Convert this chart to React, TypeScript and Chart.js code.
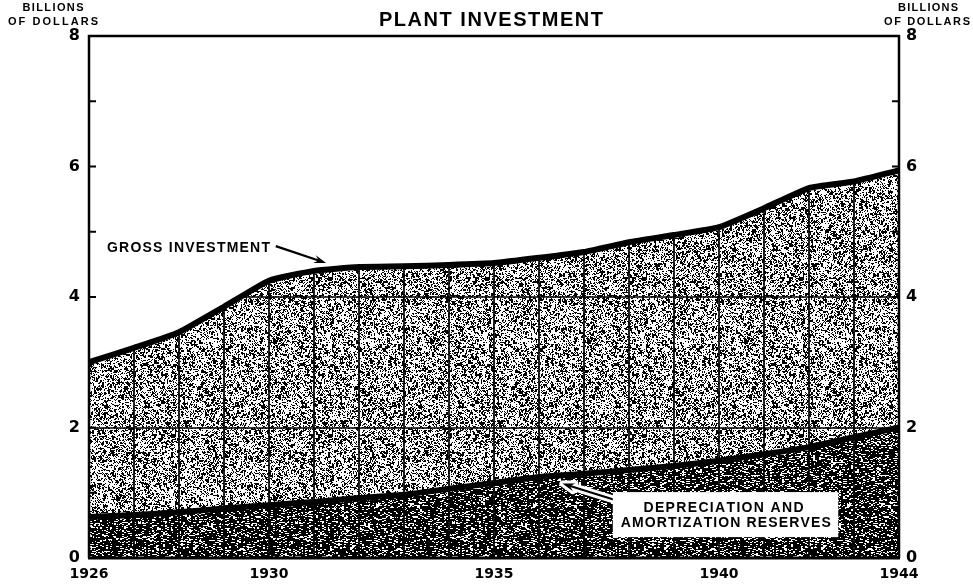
import { useEffect, useRef } from "react";
import { Chart, registerables } from "chart.js";

Chart.register(...registerables);

// ---- Data (billions of dollars) ----
const years = [1926, 1927, 1928, 1929, 1930, 1931, 1932, 1933, 1934, 1935, 1936, 1937, 1938, 1939, 1940, 1941, 1942, 1943, 1944];
const grossInvestment = [3.0, 3.22, 3.46, 3.85, 4.25, 4.4, 4.46, 4.47, 4.49, 4.52, 4.6, 4.69, 4.84, 4.95, 5.07, 5.36, 5.67, 5.77, 5.94];
const depreciationReserves = [0.63, 0.66, 0.7, 0.76, 0.81, 0.86, 0.92, 0.97, 1.06, 1.15, 1.24, 1.29, 1.35, 1.41, 1.49, 1.59, 1.7, 1.85, 2.0];
const xTickLabels = [1926, 1930, 1935, 1940, 1944];
const yMin = 0;
const yMax = 8;
const yStep = 2;
const gridValues = [2, 4, 6];
const minorTickValues = [1, 2, 3, 4, 5, 6, 7];

const TITLE = "PLANT INVESTMENT";
const AXIS_TITLE = ["BILLIONS", "OF DOLLARS"];
const GROSS_LABEL = "GROSS INVESTMENT";
const DEP_LABEL = ["DEPRECIATION AND", "AMORTIZATION RESERVES"];

const FONT = "'Liberation Sans', Arial, sans-serif";
const TICK_FONT = "'DejaVu Sans', sans-serif";

// deterministic hash for stipple texture (style only)
function hash(x: number, y: number, seed: number) {
  let h = (Math.imul(x, 374761393) + Math.imul(y, 668265263) + Math.imul(seed, 982451653)) | 0;
  h = Math.imul(h ^ (h >>> 13), 1274126177);
  h ^= h >>> 16;
  return (h >>> 0) / 4294967296;
}

function makeStipple(kind: "light" | "dark"): CanvasPattern | string {
  const size = 157;
  const c = document.createElement("canvas");
  c.width = size;
  c.height = size;
  const g = c.getContext("2d");
  if (!g) return kind === "light" ? "#9a9a9a" : "#3a3a3a";
  const img = g.createImageData(size, size);
  for (let y = 0; y < size; y++) {
    for (let x = 0; x < size; x++) {
      let black: boolean;
      if (kind === "light") {
        black = hash(x, y, 7) < 0.3 || hash(x >> 1, y >> 1, 11) < 0.14;
      } else {
        const white = hash(x >> 1, y, 3) < 0.2 || hash(x, y, 5) < 0.07;
        black = !white;
      }
      const v = black ? 0 : 255;
      const i = (y * size + x) * 4;
      img.data[i] = v;
      img.data[i + 1] = v;
      img.data[i + 2] = v;
      img.data[i + 3] = 255;
    }
  }
  g.putImageData(img, 0, 0);
  const p = g.createPattern(c, "repeat");
  return p || (kind === "light" ? "#9a9a9a" : "#3a3a3a");
}

function spacedText(
  ctx: CanvasRenderingContext2D,
  text: string,
  x: number,
  cy: number,
  width: number,
  font: string,
  align: "center" | "left" = "center"
) {
  ctx.save();
  ctx.font = font;
  ctx.fillStyle = "#000";
  ctx.textBaseline = "middle";
  ctx.textAlign = "left";
  const chars = Array.from(text);
  const widths = chars.map((c) => ctx.measureText(c).width);
  const natural = widths.reduce((s, w) => s + w, 0);
  let gap = chars.length > 1 ? (width - natural) / (chars.length - 1) : 0;
  let sx = 1;
  if (gap < 0) {
    sx = width / natural;
    gap = 0;
  }
  const x0 = align === "center" ? x - width / 2 : x;
  ctx.translate(x0, cy);
  ctx.scale(sx, 1);
  let cx = 0;
  chars.forEach((c, i) => {
    ctx.fillText(c, cx, 0);
    cx += widths[i] + gap / sx;
  });
  ctx.restore();
}

function arrowPath(ctx: CanvasRenderingContext2D, x1: number, y1: number, x2: number, y2: number, head: number) {
  const ang = Math.atan2(y2 - y1, x2 - x1);
  const shaft = new Path2D();
  shaft.moveTo(x1, y1);
  shaft.lineTo(x2 - Math.cos(ang) * 4, y2 - Math.sin(ang) * 4);
  const tip = new Path2D();
  tip.moveTo(x2, y2);
  tip.lineTo(x2 - head * Math.cos(ang - 0.32), y2 - head * Math.sin(ang - 0.32));
  tip.lineTo(x2 - head * 0.6 * Math.cos(ang), y2 - head * 0.6 * Math.sin(ang));
  tip.lineTo(x2 - head * Math.cos(ang + 0.32), y2 - head * Math.sin(ang + 0.32));
  tip.closePath();
  return { shaft, tip };
}

function arrow(ctx: CanvasRenderingContext2D, x1: number, y1: number, x2: number, y2: number, halo = false) {
  const { shaft, tip } = arrowPath(ctx, x1, y1, x2, y2, 13);
  ctx.save();
  ctx.lineJoin = "round";
  ctx.lineCap = "round";
  if (halo) {
    ctx.strokeStyle = "#fff";
    ctx.lineWidth = 8;
    ctx.stroke(shaft);
    ctx.lineWidth = 6;
    ctx.stroke(tip);
    ctx.fillStyle = "#fff";
    ctx.fill(tip);
  }
  ctx.strokeStyle = "#000";
  ctx.fillStyle = "#000";
  ctx.lineWidth = 2.2;
  ctx.lineCap = "butt";
  ctx.stroke(shaft);
  ctx.fill(tip);
  ctx.restore();
}

const decorPlugin = {
  id: "decor",
  afterDatasetsDraw(chart: any) {
    const { ctx, chartArea: a, scales } = chart;
    const xs = scales.x;
    const ys = scales.y;
    const X = (v: number) => xs.getPixelForValue(v);
    const Y = (v: number) => ys.getPixelForValue(v);

    // grid lines clipped to the shaded area (below gross investment line)
    ctx.save();
    ctx.beginPath();
    const meta = chart.getDatasetMeta(1);
    const line = meta.dataset;
    if (line && typeof line.path === "function") {
      line.path(ctx);
    } else {
      meta.data.forEach((p: any, i: number) => (i === 0 ? ctx.moveTo(p.x, p.y) : ctx.lineTo(p.x, p.y)));
    }
    ctx.lineTo(a.right, a.bottom);
    ctx.lineTo(a.left, a.bottom);
    ctx.closePath();
    ctx.clip();
    ctx.strokeStyle = "#000";
    ctx.lineWidth = 1.7;
    ctx.beginPath();
    years.forEach((yr) => {
      const x = Math.round(X(yr));
      ctx.moveTo(x, a.top);
      ctx.lineTo(x, a.bottom);
    });
    gridValues.forEach((v) => {
      const y = Math.round(Y(v));
      ctx.moveTo(a.left, y);
      ctx.lineTo(a.right, y);
    });
    ctx.stroke();
    ctx.restore();

    // frame
    ctx.save();
    ctx.strokeStyle = "#000";
    ctx.lineWidth = 2.5;
    ctx.beginPath();
    ctx.moveTo(a.left, a.bottom);
    ctx.lineTo(a.left, a.top);
    ctx.lineTo(a.right, a.top);
    ctx.lineTo(a.right, a.bottom);
    ctx.stroke();
    ctx.lineWidth = 3;
    ctx.beginPath();
    ctx.moveTo(a.left - 1, a.bottom);
    ctx.lineTo(a.right + 1, a.bottom);
    ctx.stroke();
    // minor inward ticks
    ctx.lineWidth = 1.8;
    ctx.beginPath();
    minorTickValues.forEach((v) => {
      const y = Y(v);
      ctx.moveTo(a.left, y);
      ctx.lineTo(a.left + 7, y);
      ctx.moveTo(a.right, y);
      ctx.lineTo(a.right - 7, y);
    });
    ctx.stroke();
    ctx.restore();

    // title and axis titles
    spacedText(ctx, TITLE, (a.left + a.right) / 2 - 3, 20, 224, `bold 20px ${FONT}`);
    spacedText(ctx, AXIS_TITLE[0], 53, 8, 61, `bold 11px ${FONT}`);
    spacedText(ctx, AXIS_TITLE[1], 53, 22, 90, `bold 11px ${FONT}`);
    spacedText(ctx, AXIS_TITLE[0], 928, 8, 60, `bold 11px ${FONT}`);
    spacedText(ctx, AXIS_TITLE[1], 927, 22, 86, `bold 11px ${FONT}`);

    // gross investment annotation
    spacedText(ctx, GROSS_LABEL, X(1926.4), Y(4.75), 163, `bold 14px ${FONT}`, "left");
    arrow(ctx, X(1930.15), Y(4.78), X(1931.27), Y(4.52));

    // depreciation annotation (white box)
    const bx1 = X(1937.64);
    const bx2 = X(1942.65);
    const by1 = Y(1.01);
    const by2 = Y(0.32);
    arrow(ctx, X(1938.1), Y(0.8), X(1936.52), Y(1.14), true);
    ctx.save();
    ctx.fillStyle = "#fff";
    ctx.fillRect(bx1, by1, bx2 - bx1, by2 - by1);
    ctx.restore();
    spacedText(ctx, DEP_LABEL[0], X(1940.1), Y(0.766), 160, `bold 14px ${FONT}`);
    spacedText(ctx, DEP_LABEL[1], X(1940.15), Y(0.536), 210, `bold 14px ${FONT}`);
  },
};

export default function App() {
  const ref = useRef<HTMLCanvasElement | null>(null);

  useEffect(() => {
    document.body.style.margin = "0";
    const canvas = ref.current;
    if (!canvas) return;
    const light = makeStipple("light");
    const dark = makeStipple("dark");

    const chart = new Chart(canvas, {
      type: "line",
      data: {
        datasets: [
          {
            label: "Depreciation and amortization reserves",
            data: years.map((yr, i) => ({ x: yr, y: depreciationReserves[i] })),
            borderColor: "#000",
            borderWidth: 6,
            backgroundColor: dark as any,
            fill: "origin",
            pointRadius: 0,
            tension: 0.12,
            borderJoinStyle: "round",
          },
          {
            label: "Gross investment",
            data: years.map((yr, i) => ({ x: yr, y: grossInvestment[i] })),
            borderColor: "#000",
            borderWidth: 6,
            backgroundColor: light as any,
            fill: "-1",
            pointRadius: 0,
            tension: 0.15,
            borderJoinStyle: "round",
          },
        ],
      },
      options: {
        animation: false,
        responsive: false,
        devicePixelRatio: 1,
        layout: { padding: { top: 36, left: 0, right: 0, bottom: 0 } },
        plugins: {
          legend: { display: false },
          title: { display: false },
          tooltip: { enabled: false },
        },
        scales: {
          x: {
            type: "linear",
            position: "bottom",
            min: years[0],
            max: years[years.length - 1],
            grid: { display: false, drawTicks: false },
            border: { display: false },
            afterFit: (s: any) => {
              s.height = 28;
            },
            ticks: {
              stepSize: 1,
              autoSkip: false,
              maxRotation: 0,
              minRotation: 0,
              padding: 8,
              color: "#000",
              font: { family: TICK_FONT, size: 14, weight: "bold" },
              callback: (v: any) => (xTickLabels.includes(Number(v)) ? String(v) : ""),
            },
          },
          y: {
            position: "left",
            min: yMin,
            max: yMax,
            grid: { display: false, drawTicks: false },
            border: { display: false },
            afterFit: (s: any) => {
              s.width = 89;
            },
            ticks: {
              stepSize: yStep,
              padding: 9,
              color: "#000",
              font: { family: TICK_FONT, size: 16, weight: "bold" },
            },
          },
          y2: {
            position: "right",
            min: yMin,
            max: yMax,
            grid: { display: false, drawTicks: false },
            border: { display: false },
            afterFit: (s: any) => {
              s.width = 74;
            },
            ticks: {
              stepSize: yStep,
              padding: 7,
              color: "#000",
              font: { family: TICK_FONT, size: 16, weight: "bold" },
            },
          },
        },
      } as any,
      plugins: [decorPlugin as any],
    });
    return () => chart.destroy();
  }, []);

  return (
    <div style={{ width: 973, height: 586, background: "#fff" }}>
      <canvas ref={ref} width={973} height={586} style={{ display: "block" }} />
    </div>
  );
}
